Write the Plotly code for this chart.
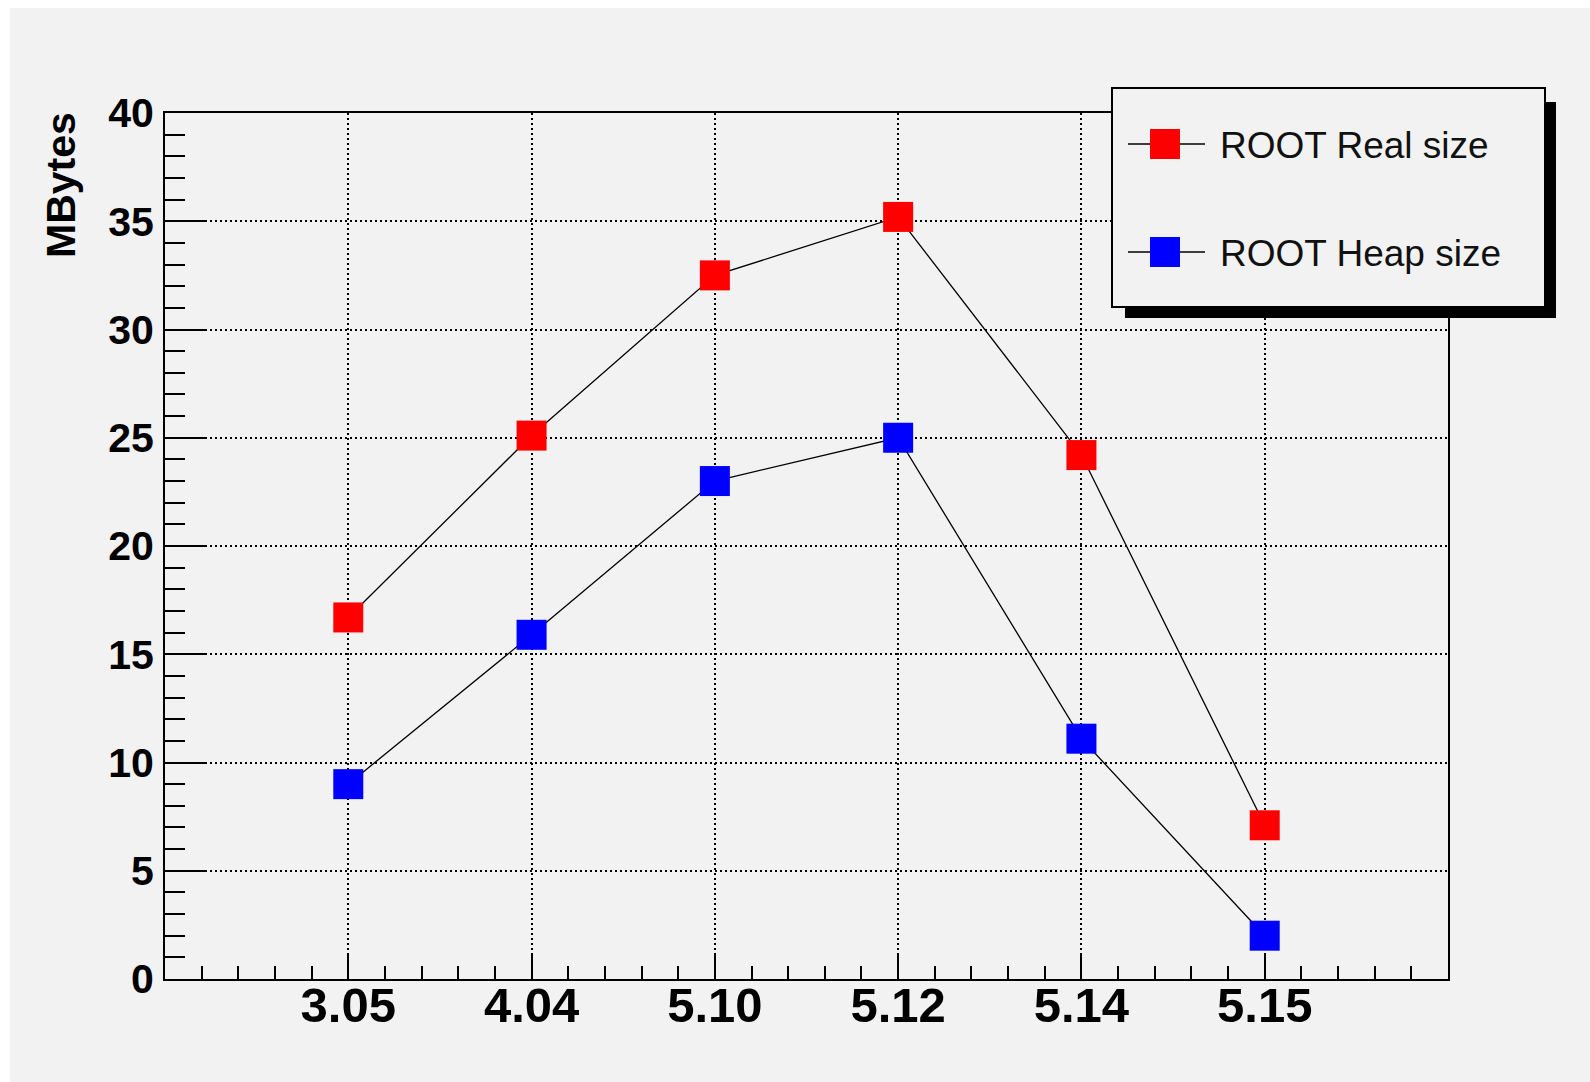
import plotly.graph_objects as go

# ---- data ----
versions = ["3.05", "4.04", "5.10", "5.12", "5.14", "5.15"]
real_size = [16.7, 25.1, 32.5, 35.2, 24.2, 7.1]
heap_size = [9.0, 15.9, 23.0, 25.0, 11.1, 2.0]
series_names = ["ROOT Real size", "ROOT Heap size"]
series_colors = ["#ff0000", "#0000ff"]
y_title = "MBytes"

# ---- layout geometry (pixels) ----
W, H = 1590, 1082
L, R, T, B = 165, 1448, 113, 979


def px(x):
    return (x - L) / (R - L)


def py(y):
    return (B - y) / (B - T)


xpos = list(range(1, len(versions) + 1))

fig = go.Figure()
for vals, name, col in zip([real_size, heap_size], series_names, series_colors):
    fig.add_trace(go.Scatter(
        x=xpos, y=vals, name=name, mode="lines+markers",
        line=dict(color="black", width=1.3),
        marker=dict(symbol="square", size=30, color=col, line=dict(width=0)),
        showlegend=False,
    ))

FONT = "Liberation Sans, Arial, Helvetica, sans-serif"
grid = dict(showgrid=True, gridcolor="black", gridwidth=1.5, griddash="2px,3px",
            showline=True, linewidth=2, linecolor="black", mirror=True,
            zeroline=False, ticks="inside", tickcolor="black", tickwidth=2)

fig.update_xaxes(
    range=[0, 7], tickmode="array", tickvals=xpos, ticktext=versions,
    ticklen=26, tickfont=dict(family=FONT, size=49, color="black", weight="bold"),
    minor=dict(tickmode="array", tickvals=[i * 0.2 for i in range(1, 35)],
               ticks="inside", ticklen=13, tickwidth=2, tickcolor="black", showgrid=False),
    ticklabelstandoff=-18,
    **grid,
)
fig.update_yaxes(
    range=[0, 40], tickmode="linear", tick0=0, dtick=5,
    ticklen=40, tickfont=dict(family=FONT, size=41, color="black", weight="bold"),
    minor=dict(tickmode="linear", tick0=0, dtick=1,
               ticks="inside", ticklen=20, tickwidth=2, tickcolor="black", showgrid=False),
    ticklabelstandoff=1,
    **grid,
)

shapes = [
    # white outer strips (panel border)
    dict(type="rect", xref="paper", yref="paper", x0=px(0), x1=px(W), y0=py(0), y1=py(8),
         fillcolor="white", line=dict(width=0), layer="above"),
    dict(type="rect", xref="paper", yref="paper", x0=px(0), x1=px(10), y0=py(0), y1=py(H),
         fillcolor="white", line=dict(width=0), layer="above"),
    # legend shadow and box
    dict(type="rect", xref="paper", yref="paper", x0=px(1125), x1=px(1556), y0=py(318), y1=py(102),
         fillcolor="black", line=dict(width=0), layer="above"),
    dict(type="rect", xref="paper", yref="paper", x0=px(1112), x1=px(1545), y0=py(307), y1=py(88),
         fillcolor="#f2f2f2", line=dict(color="black", width=2), layer="above"),
]
annotations = [
    dict(text="<b>" + y_title + "</b>", xref="paper", yref="paper", x=px(61), y=py(110),
         xanchor="center", yanchor="top", textangle=-90, showarrow=False,
         font=dict(family=FONT, size=41, color="black")),
]
for i, (name, col) in enumerate(zip(series_names, series_colors)):
    yc = [144, 252][i]
    shapes.append(dict(type="line", xref="paper", yref="paper", x0=px(1128), x1=px(1205),
                       y0=py(yc), y1=py(yc), line=dict(color="black", width=1.5), layer="above"))
    shapes.append(dict(type="rect", xref="paper", yref="paper", x0=px(1150), x1=px(1180),
                       y0=py(yc + 15), y1=py(yc - 15), fillcolor=col, line=dict(width=0), layer="above"))
    annotations.append(dict(text=name, xref="paper", yref="paper", x=px(1218), y=py(yc + 1),
                            xanchor="left", yanchor="middle", showarrow=False,
                            font=dict(family=FONT, size=37, color="#111111")))

fig.update_layout(
    width=W, height=H,
    margin=dict(l=L, r=W - R, t=T, b=H - B, pad=0),
    paper_bgcolor="#f2f2f2", plot_bgcolor="#f2f2f2",
    shapes=shapes, annotations=annotations,
    showlegend=False,
)

fig.write_html("out.html")
